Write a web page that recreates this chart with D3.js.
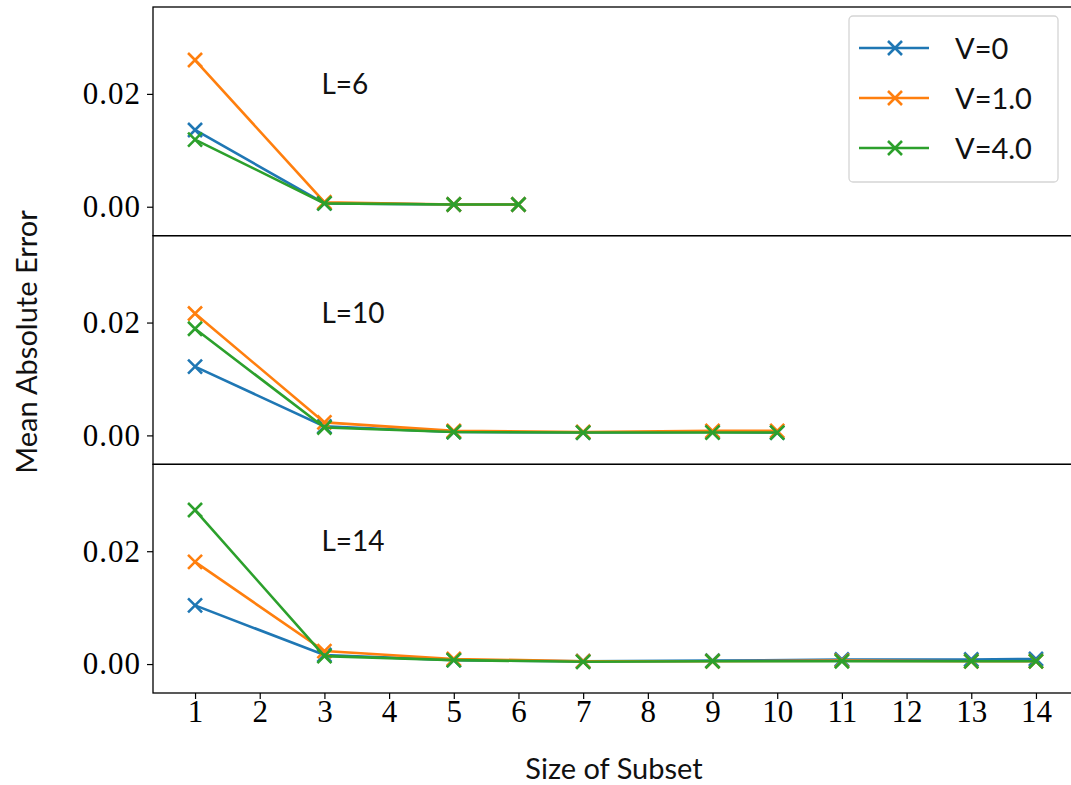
<!DOCTYPE html>
<html>
<head>
<meta charset="utf-8">
<script src="https://cdn.jsdelivr.net/npm/d3@7"></script>
<style>
  body { margin: 0; background: #fff; }
  .tick text { font-family: "Liberation Serif", "DejaVu Serif", serif; }
</style>
</head>
<body>
<div id="chart"></div>
<script>
// data
var seriesNames = ["V=0", "V=1.0", "V=4.0"];
var seriesColors = ["#1f77b4", "#ff7f0e", "#2ca02c"];
var panelLabels = ["L=6", "L=10", "L=14"];
var xTicks = [1, 2, 3, 4, 5, 6, 7, 8, 9, 10, 11, 12, 13, 14];
var yTicks = [0, 0.02];

var sizesL6 = [1, 3, 5, 6];
var sizesL10 = [1, 3, 5, 7, 9, 10];
var sizesL14 = [1, 3, 5, 7, 9, 11, 13, 14];

var l6V0 = [0.0136, 0.0006, 0.0004, 0.0004];
var l6V1 = [0.0260, 0.0008, 0.0004, 0.0004];
var l6V4 = [0.0119, 0.0006, 0.0004, 0.0004];

var l10V0 = [0.0122, 0.0016, 0.0006, 0.0005, 0.0006, 0.0005];
var l10V1 = [0.0216, 0.0023, 0.0008, 0.0006, 0.0008, 0.0008];
var l10V4 = [0.0189, 0.0014, 0.0006, 0.0005, 0.0005, 0.0005];

var l14V0 = [0.0104, 0.0016, 0.0007, 0.0005, 0.0006, 0.0008, 0.0008, 0.0009];
var l14V1 = [0.0181, 0.0023, 0.0009, 0.0005, 0.0005, 0.0006, 0.0005, 0.0005];
var l14V4 = [0.0273, 0.0014, 0.0007, 0.0004, 0.0005, 0.0005, 0.0005, 0.0005];

var panels = [
  { label: panelLabels[0], x: sizesL6, series: [l6V0, l6V1, l6V4] },
  { label: panelLabels[1], x: sizesL10, series: [l10V0, l10V1, l10V4] },
  { label: panelLabels[2], x: sizesL14, series: [l14V0, l14V1, l14V4] }
];

var W = 1071, H = 785;
var plotL = 153, plotR = 1078, plotT = 7, plotB = 693;
var panelH = (plotB - plotT) / 3;
var sansFont = "Lato, 'DejaVu Sans', sans-serif";
var lw = 2.6;

var svg = d3.select("#chart").append("svg")
  .attr("width", W).attr("height", H);

var x = d3.scaleLinear().domain([0.35, 14.65]).range([plotL, plotR]);

panels.forEach(function(p, i) {
  var y0 = plotT + i * panelH;
  var y = d3.scaleLinear().domain([-0.00513, 0.0354]).range([y0 + panelH, y0]);

  var g = svg.append("g");

  // y axis
  var yAxis = d3.axisLeft(y).tickValues(yTicks).tickSize(6).tickPadding(6)
    .tickFormat(d3.format(".2f"));
  var ya = g.append("g").attr("transform", "translate(" + plotL + ",0)").call(yAxis);
  ya.select(".domain").remove();
  ya.selectAll(".tick line").attr("stroke", "#000").attr("stroke-width", 1.2);
  ya.selectAll(".tick text").style("font-size", "31px").attr("fill", "#000")
    .attr("letter-spacing", "1px");

  var line = d3.line()
    .x(function(d) { return x(d[0]); })
    .y(function(d) { return y(d[1]); });

  p.series.forEach(function(vals, s) {
    var pts = p.x.map(function(xv, k) { return [xv, vals[k]]; });
    g.append("path").datum(pts)
      .attr("d", line)
      .attr("fill", "none")
      .attr("stroke", seriesColors[s])
      .attr("stroke-width", lw);
    g.selectAll(null).data(pts).enter().append("path")
      .attr("transform", function(d) { return "translate(" + x(d[0]) + "," + y(d[1]) + ")"; })
      .attr("d", "M-7,-7L7,7M-7,7L7,-7")
      .attr("stroke", seriesColors[s])
      .attr("stroke-width", lw)
      .attr("fill", "none");
  });

  g.append("text")
    .attr("x", x(3) - 3)
    .attr("y", y(0.02))
    .attr("font-family", sansFont)
    .attr("font-size", 28)
    .attr("fill", "#111")
    .text(p.label);

  // frame
  g.append("rect")
    .attr("x", plotL).attr("y", y0)
    .attr("width", plotR - plotL).attr("height", panelH)
    .attr("fill", "none").attr("stroke", "#000").attr("stroke-width", 1.3);
});

// shared x axis
var xAxis = d3.axisBottom(x).tickValues(xTicks).tickSize(6).tickPadding(1);
var xa = svg.append("g").attr("transform", "translate(0," + plotB + ")").call(xAxis);
xa.select(".domain").remove();
xa.selectAll(".tick line").attr("stroke", "#000").attr("stroke-width", 1.2);
xa.selectAll(".tick text").style("font-size", "31px").attr("fill", "#000");

svg.append("text")
  .attr("x", 614)
  .attr("y", 779)
  .attr("text-anchor", "middle")
  .attr("font-family", sansFont)
  .attr("font-size", 29)
  .attr("fill", "#111")
  .text("Size of Subset");

svg.append("text")
  .attr("transform", "translate(37," + 342 + ") rotate(-90)")
  .attr("text-anchor", "middle")
  .attr("font-family", sansFont)
  .attr("font-size", 29)
  .attr("fill", "#111")
  .text("Mean Absolute Error");

// legend
var lg = svg.append("g");
lg.append("rect")
  .attr("x", 849).attr("y", 16).attr("width", 209).attr("height", 166)
  .attr("rx", 4).attr("fill", "#fff").attr("fill-opacity", 0.8)
  .attr("stroke", "#d5d5d5").attr("stroke-width", 1.3);
seriesNames.forEach(function(name, s) {
  var ly = 48 + s * 50;
  lg.append("line").attr("x1", 859).attr("x2", 929).attr("y1", ly).attr("y2", ly)
    .attr("stroke", seriesColors[s]).attr("stroke-width", lw);
  lg.append("path").attr("transform", "translate(895," + ly + ")")
    .attr("d", "M-7,-7L7,7M-7,7L7,-7")
    .attr("stroke", seriesColors[s]).attr("stroke-width", lw);
  lg.append("text").attr("x", 955).attr("y", ly + 11)
    .attr("font-family", sansFont)
    .attr("font-size", 29).attr("fill", "#111")
    .text(name);
});
</script>
</body>
</html>
